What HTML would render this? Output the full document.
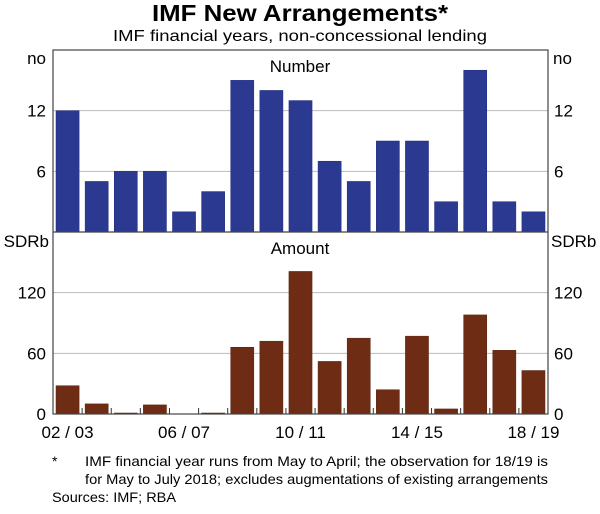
<!DOCTYPE html>
<html><head><meta charset="utf-8"><style>
body{margin:0;background:#fff;font-family:"Liberation Sans",sans-serif;}
svg text{font-family:"Liberation Sans",sans-serif;fill:#000;}
</style></head><body>
<svg width="600" height="509" id="c">
<text x="152" y="21" font-size="23" font-weight="bold" textLength="296" lengthAdjust="spacingAndGlyphs">IMF New Arrangements*</text>
<text x="113" y="41" font-size="16" textLength="374" lengthAdjust="spacingAndGlyphs">IMF financial years, non-concessional lending</text>
<g id="g"></g>
<text x="300" y="72" text-anchor="middle" font-size="17">Number</text>
<text x="300" y="254" text-anchor="middle" font-size="17">Amount</text>
<text x="46" y="64" text-anchor="end" font-size="17">no</text>
<text x="553" y="64" font-size="17">no</text>
<text x="49" y="247" text-anchor="end" font-size="17">SDRb</text>
<text x="551" y="247" font-size="17">SDRb</text>
<text x="52" y="466" font-size="14">*</text>
<text x="85" y="466" font-size="14" textLength="463" lengthAdjust="spacingAndGlyphs">IMF financial year runs from May to April; the observation for 18/19 is</text>
<text x="85" y="484" font-size="14" textLength="463" lengthAdjust="spacingAndGlyphs">for May to July 2018; excludes augmentations of existing arrangements</text>
<text x="52" y="502" font-size="14" textLength="124" lengthAdjust="spacingAndGlyphs">Sources: IMF; RBA</text>
</svg>
<script>
const categories=["02/03","03/04","04/05","05/06","06/07","07/08","08/09","09/10","10/11","11/12","12/13","13/14","14/15","15/16","16/17","17/18","18/19"];
const numberValues=[12,5,6,6,2,4,15,14,13,7,5,9,9,3,16,3,2];
const amountValues=[28,10,1,9,0,1,66,72,141,52,75,24,77,5,98,63,43];
const numberTicks=[6,12];
const amountTicks=[0,60,120];
const xLabels=["02/03","06/07","10/11","14/15","18/19"];
const NS="http://www.w3.org/2000/svg";
const g=document.getElementById('g');
const L=53,R=548,pitch=(R-L)/categories.length;
const yTop=v=>232-v*(182/18);
const yBot=v=>414-v*(182/180);
function mk(t,a,p){const e=document.createElementNS(NS,t);for(const k in a)e.setAttribute(k,a[k]);(p||g).appendChild(e);return e;}
numberTicks.forEach(t=>{
 const l=mk('line',{x1:L,x2:R,y1:yTop(t),y2:yTop(t),stroke:'#bbb','stroke-width':1});
 
 
 [[46,'end'],[554,'start']].forEach(([x,a])=>{const tx=mk('text',{x:x,y:yTop(t)+6,'text-anchor':a,'font-size':17});tx.textContent=t;
 
 });
});
amountTicks.forEach(t=>{
 if(t>0){const l=mk('line',{x1:L,x2:R,y1:yBot(t),y2:yBot(t),stroke:'#bbb','stroke-width':1});
 
 }
 [[46,'end'],[554,'start']].forEach(([x,a])=>{const tx=mk('text',{x:x,y:yBot(t)+6,'text-anchor':a,'font-size':17});tx.textContent=t;
 
 });
});
categories.forEach((c,i)=>{
 const x=L+i*pitch+3;const w=pitch-6;
 const b1=mk('rect',{x:x,y:yTop(numberValues[i]),width:w,height:232-yTop(numberValues[i]),fill:'#2b3990',stroke:'#1f2a80','stroke-width':0.5});
 
 
 const b2=mk('rect',{x:x,y:yBot(amountValues[i]),width:w,height:414-yBot(amountValues[i]),fill:'#6e2c14',stroke:'#5a220e','stroke-width':0.5});
 
 
 if(i>0){const tk=mk('line',{x1:L+i*pitch,x2:L+i*pitch,y1:414,y2:408,stroke:'#333','stroke-width':1});
 
 }
 if(xLabels.includes(c)){const tx=mk('text',{x:L+(i+0.5)*pitch,y:438,'text-anchor':'middle','font-size':17});tx.textContent=c.replace('/',' / ');
 
 }
});
const f=mk('rect',{x:L,y:50,width:R-L,height:364,fill:'none',stroke:'#444','stroke-width':1.2});


const d=mk('line',{x1:L,x2:R,y1:232,y2:232,stroke:'#444','stroke-width':1.2});


</script>
</body></html>
